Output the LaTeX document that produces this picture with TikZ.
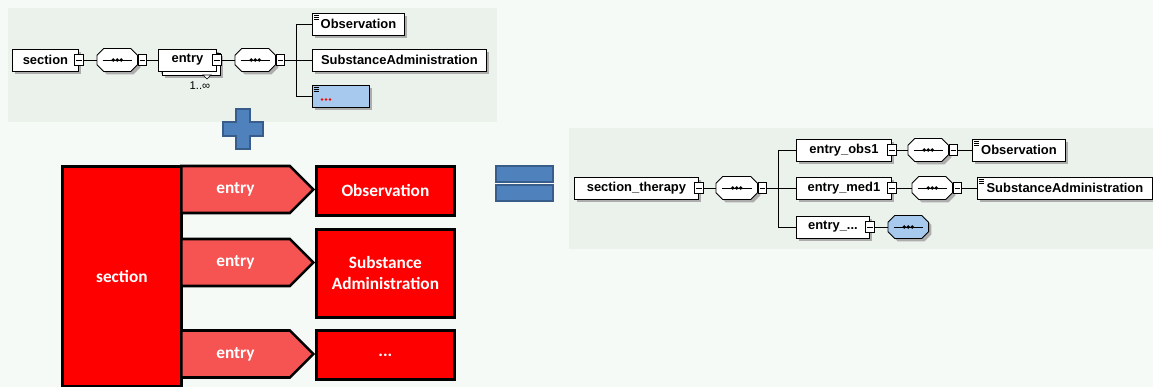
\documentclass[tikz,border=0pt]{standalone}
\usepackage{fontspec}
\setsansfont{Liberation Sans}
\newfontfamily\calibri{Carlito}
\usetikzlibrary{positioning,shapes.symbols,shadows}

\definecolor{pagebg}{HTML}{F5FAF6}
\definecolor{panelbg}{HTML}{EBF1EB}
\definecolor{xsdblue}{HTML}{A7C9EE}
\definecolor{opblue}{HTML}{4F81BD}
\definecolor{opline}{HTML}{385D8A}
\definecolor{entryred}{HTML}{F65353}

% octagon of a sequence compositor round node #1, filled with #2
\newcommand\seqbox[2]{%
  \filldraw[fill=#2, line width=0.6pt, shade]
    ([xshift=0.17cm]#1.north west) -- ([xshift=-0.17cm]#1.north east)
    -- ([yshift=-0.17cm]#1.north east) -- ([yshift=0.17cm]#1.south east)
    -- ([xshift=-0.17cm]#1.south east) -- ([xshift=0.17cm]#1.south west)
    -- ([yshift=0.17cm]#1.south west) -- ([yshift=-0.17cm]#1.north west) -- cycle;
  \draw[line width=0.6pt] ([xshift=0.14cm]#1.west) -- ([xshift=-0.14cm]#1.east);
  \foreach \d in {-0.1,0,0.1} \fill ([xshift=\d cm]#1.center) circle (0.045cm);}

\begin{document}
\begin{tikzpicture}[
  x=0.025cm, y=-0.025cm,
  xsd/.style={font=\sffamily\bfseries\fontsize{9.2}{10}\selectfont},
  shade/.style={drop shadow={shadow xshift=0.07cm, shadow yshift=-0.07cm, fill=black!32, opacity=1}},
  elem/.style={xsd, draw, fill=white, line width=0.6pt, inner sep=0pt,
    minimum height=0.55cm, anchor=west, shade},
  typed/.style={path picture={\foreach \k in {1,2,3}
      \draw[line width=0.35pt] ([shift={(0.04cm,-\k*0.05cm)}]path picture bounding box.north west) -- ++(0.12cm,0);}},
  minus/.style={draw, fill=white, line width=0.5pt, inner sep=0pt,
    minimum width=0.22cm, minimum height=0.26cm,
    path picture={\draw[line width=0.5pt] ([xshift=0.04cm]path picture bounding box.west)
      -- ([xshift=-0.04cm]path picture bounding box.east);}},
  seq/.style={inner sep=0pt, minimum width=1cm, minimum height=0.56cm, anchor=west},
  conn/.style={line width=0.6pt},
  redtxt/.style={font=\calibri\bfseries\fontsize{12.3}{14.9}\selectfont, text=white},
  redbox/.style={redtxt, draw, line width=2pt, fill=red, anchor=north west, inner sep=0pt, align=center},
  entryarrow/.style={redtxt, signal, signal to=east, signal pointer angle=90, draw, line width=1.8pt,
    fill=entryred, inner sep=0pt, minimum width=3.3cm, minimum height=1.175cm, anchor=west},
  opsign/.style={fill=opblue, draw=opline, line width=1pt}
]
\fill[pagebg] (0,0) rectangle (1153,387);
\useasboundingbox (0,0) rectangle (1153,387);
\fill[panelbg] (8,8) rectangle (497,122);
\fill[panelbg] (569,128) rectangle (1153,249);

% schema of the template
\node[elem, minimum width=1.65cm] (tsec) at (12,60) {section};
\node[minus] (tsecm) at (tsec.east) {};
\node[seq] (tseq1) at (97,60) {}; \seqbox{tseq1}{white}
\node[minus, anchor=west] (tseq1m) at (tseq1.east) {};
\node[elem, minimum width=1.45cm, drop shadow={shadow xshift=0.17cm, shadow yshift=-0.17cm, fill=black!32, opacity=1},
  copy shadow={shadow xshift=0.1cm, shadow yshift=-0.1cm}] (tentry) at (158,60) {entry};
\node[minus] (tentrym) at (tentry.east) {};
\filldraw[fill=white, line width=0.5pt] (203,75) -- (211,75) -- (207,79) -- cycle;
\node[font=\sffamily\fontsize{8}{9}\selectfont] (tmult) at (200,86) {1..∞};
\node[seq] (tseq2) at (235,60) {}; \seqbox{tseq2}{white}
\node[minus, anchor=west] (tseq2m) at (tseq2.east) {};
\coordinate (tj) at (296,60);
\node[elem, typed, minimum width=2.3cm] (tobs) at (312,24) {Observation};
\node[elem, minimum width=4.35cm] (tsub) at (312,60) {SubstanceAdministration};
\node[elem, typed, fill=xsdblue, minimum width=1.425cm] (tany) at (312,96) {};
\foreach \k in {0,1,2}
  \fill[red] ([shift={(0.25cm+\k*0.1cm,0.2cm)}]tany.south west) circle (0.035cm);

\draw[conn] (tsecm.east) -- (tseq1.west);
\draw[conn] (tseq1m.east) -- (tentry.west);
\draw[conn] (tentrym.east) -- (tseq2.west);
\draw[conn] (tseq2m.east) -- (tj);
\draw[conn] (tj) |- (tobs.west);
\draw[conn] (tj) -- (tsub.west);
\draw[conn] (tj) |- (tany.west);

% plus and equals
\draw[opsign] (236,109) -- (250,109) -- (250,122) -- (263,122) -- (263,136) -- (250,136)
  -- (250,149) -- (236,149) -- (236,136) -- (223,136) -- (223,122) -- (236,122) -- cycle;
\draw[opsign] (496,166) rectangle (553,182);
\draw[opsign] (496,185) rectangle (553,201);

% block view
\node[redbox, minimum width=2.975cm, minimum height=5.5cm] (sec) at (61,165) {section};
\node[entryarrow] (ent1) at (180,189.5) {entry};
\node[entryarrow] (ent2) at (180,262.5) {entry};
\node[entryarrow] (ent3) at (180,354) {entry};
\node[redbox, minimum width=3.45cm, minimum height=1.225cm] (obs) at (315,165) {Observation};
\node[redbox, minimum width=3.45cm, minimum height=2.2cm] (sub) at (315,228) {Substance\\Administration};
\node[redbox, minimum width=3.45cm, minimum height=1.225cm] (more) at (315,329) {...};

% resulting schema
\node[elem, minimum width=3.1cm] (rsec) at (574,188) {section\_therapy};
\node[minus] (rsecm) at (rsec.east) {};
\node[seq, minimum width=1.025cm] (rseq) at (716,188) {}; \seqbox{rseq}{white}
\node[minus, anchor=west] (rseqm) at (rseq.east) {};
\coordinate (rj) at (778,188);

\node[elem, minimum width=2.375cm] (rent1) at (796,150) {entry\_obs1};
\node[minus] (rent1m) at (rent1.east) {};
\node[seq] (rseq1) at (908,150) {}; \seqbox{rseq1}{white}
\node[minus, anchor=west] (rseq1m) at (rseq1.east) {};
\node[elem, typed, minimum width=2.325cm] (robs) at (972,150) {Observation};

\node[elem, minimum width=2.375cm] (rent2) at (796,188) {entry\_med1};
\node[minus] (rent2m) at (rent2.east) {};
\node[seq] (rseq2) at (912,188) {}; \seqbox{rseq2}{white}
\node[minus, anchor=west] (rseq2m) at (rseq2.east) {};
\node[elem, typed, minimum width=4.375cm] (rsub) at (977,188) {SubstanceAdministration};

\node[elem, minimum width=1.825cm] (rent3) at (796,227) {entry\_...};
\node[minus] (rent3m) at (rent3.east) {};
\node[seq] (rseq3) at (888,227) {}; \seqbox{rseq3}{xsdblue}

\draw[conn] (rsecm.east) -- (rseq.west);
\draw[conn] (rseqm.east) -- (rj);
\draw[conn] (rj) |- (rent1.west);
\draw[conn] (rj) -- (rent2.west);
\draw[conn] (rj) |- (rent3.west);
\draw[conn] (rent1m.east) -- (rseq1.west);
\draw[conn] (rseq1m.east) -- (robs.west);
\draw[conn] (rent2m.east) -- (rseq2.west);
\draw[conn] (rseq2m.east) -- (rsub.west);
\draw[conn] (rent3m.east) -- (rseq3.west);
\end{tikzpicture}
\end{document}
